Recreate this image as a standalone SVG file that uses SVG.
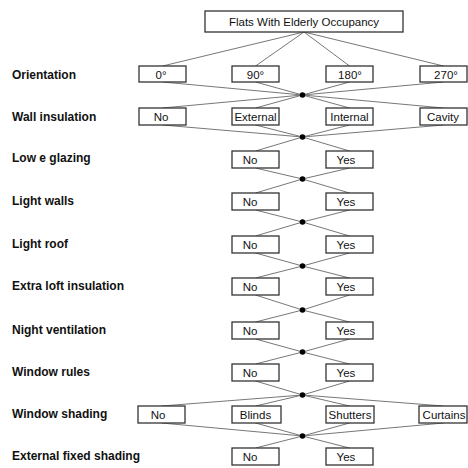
<svg xmlns="http://www.w3.org/2000/svg" width="468" height="468" viewBox="0 0 468 468">
<style>
.box{fill:#fff;stroke:#333;stroke-width:1.3}
.bt{font-family:"Liberation Sans",Arial,sans-serif;font-size:11.5px;fill:#111;text-anchor:middle}
.lbl{font-family:"Liberation Sans",Arial,sans-serif;font-size:12px;font-weight:bold;fill:#111}
.con line{stroke:#777;stroke-width:1}
.dot{fill:#000}
</style>
<rect width="468" height="468" fill="#fff"/>
<g id="connectors" class="con">
<line x1="304" y1="32" x2="162.5" y2="66"/><line x1="304" y1="32" x2="255.5" y2="66"/><line x1="304" y1="32" x2="349.5" y2="66"/><line x1="304" y1="32" x2="443.5" y2="66"/>
<line x1="162.5" y1="82" x2="302.5" y2="95"/><line x1="255.5" y1="82" x2="302.5" y2="95"/><line x1="349.5" y1="82" x2="302.5" y2="95"/><line x1="443.5" y1="82" x2="302.5" y2="95"/>
<line x1="302.5" y1="95" x2="162.5" y2="108"/><line x1="302.5" y1="95" x2="255.5" y2="108"/><line x1="302.5" y1="95" x2="349.5" y2="108"/><line x1="302.5" y1="95" x2="443.5" y2="108"/>
<line x1="162.5" y1="125" x2="302.5" y2="137"/><line x1="255.5" y1="125" x2="302.5" y2="137"/><line x1="349.5" y1="125" x2="302.5" y2="137"/><line x1="443.5" y1="125" x2="302.5" y2="137"/>
<line x1="302.5" y1="137" x2="255.5" y2="151"/><line x1="302.5" y1="137" x2="349.5" y2="151"/>
<line x1="255.5" y1="168" x2="302.5" y2="179"/><line x1="349.5" y1="168" x2="302.5" y2="179"/>
<line x1="302.5" y1="179" x2="255.5" y2="193"/><line x1="302.5" y1="179" x2="349.5" y2="193"/>
<line x1="255.5" y1="210" x2="302.5" y2="222"/><line x1="349.5" y1="210" x2="302.5" y2="222"/>
<line x1="302.5" y1="222" x2="255.5" y2="236"/><line x1="302.5" y1="222" x2="349.5" y2="236"/>
<line x1="255.5" y1="253" x2="302.5" y2="266"/><line x1="349.5" y1="253" x2="302.5" y2="266"/>
<line x1="302.5" y1="266" x2="255.5" y2="278"/><line x1="302.5" y1="266" x2="349.5" y2="278"/>
<line x1="255.5" y1="295" x2="302.5" y2="310"/><line x1="349.5" y1="295" x2="302.5" y2="310"/>
<line x1="302.5" y1="310" x2="255.5" y2="322"/><line x1="302.5" y1="310" x2="349.5" y2="322"/>
<line x1="255.5" y1="339" x2="302.5" y2="352"/><line x1="349.5" y1="339" x2="302.5" y2="352"/>
<line x1="302.5" y1="352" x2="255.5" y2="364"/><line x1="302.5" y1="352" x2="349.5" y2="364"/>
<line x1="255.5" y1="381" x2="302.5" y2="395"/><line x1="349.5" y1="381" x2="302.5" y2="395"/>
<line x1="302.5" y1="395" x2="161.5" y2="406"/><line x1="302.5" y1="395" x2="255.5" y2="406"/><line x1="302.5" y1="395" x2="349.5" y2="406"/><line x1="302.5" y1="395" x2="443.5" y2="406"/>
<line x1="161.5" y1="423" x2="302.5" y2="436"/><line x1="255.5" y1="423" x2="302.5" y2="436"/><line x1="349.5" y1="423" x2="302.5" y2="436"/><line x1="443.5" y1="423" x2="302.5" y2="436"/>
<line x1="302.5" y1="436" x2="255.5" y2="448"/><line x1="302.5" y1="436" x2="349.5" y2="448"/>
<circle class="dot" cx="302.5" cy="95" r="2.8"/><circle class="dot" cx="302.5" cy="137" r="2.8"/><circle class="dot" cx="302.5" cy="179" r="2.8"/><circle class="dot" cx="302.5" cy="222" r="2.8"/><circle class="dot" cx="302.5" cy="266" r="2.8"/><circle class="dot" cx="302.5" cy="310" r="2.8"/><circle class="dot" cx="302.5" cy="352" r="2.8"/><circle class="dot" cx="302.5" cy="395" r="2.8"/><circle class="dot" cx="302.5" cy="436" r="2.8"/>
</g>
<g id="labels">
<text class="lbl" x="12" y="78.5">Orientation</text>
<text class="lbl" x="12" y="121">Wall insulation</text>
<text class="lbl" x="12" y="162">Low e glazing</text>
<text class="lbl" x="12" y="205">Light walls</text>
<text class="lbl" x="12" y="248">Light roof</text>
<text class="lbl" x="12" y="290">Extra loft insulation</text>
<text class="lbl" x="12" y="334">Night ventilation</text>
<text class="lbl" x="12" y="376">Window rules</text>
<text class="lbl" x="12" y="418">Window shading</text>
<text class="lbl" x="12" y="460">External fixed shading</text>
</g>
<g id="root"><rect class="box" x="205" y="11" width="198" height="21"/><text class="bt" x="304" y="26">Flats With Elderly Occupancy</text></g>
<g id="o0"><rect class="box" x="139" y="66" width="47" height="16"/><text class="bt" x="161" y="78.5">0°</text></g>
<g id="o90"><rect class="box" x="232" y="66" width="47" height="16"/><text class="bt" x="255.5" y="78.5">90°</text></g>
<g id="o180"><rect class="box" x="326" y="66" width="47" height="16"/><text class="bt" x="350" y="78.5">180°</text></g>
<g id="o270"><rect class="box" x="420" y="66" width="47" height="16"/><text class="bt" x="446" y="78.5">270°</text></g>
<g id="w-no"><rect class="box" x="139" y="108" width="47" height="17"/><text class="bt" x="161" y="121">No</text></g>
<g id="w-ext"><rect class="box" x="232" y="108" width="47" height="17"/><text class="bt" x="255.5" y="121">External</text></g>
<g id="w-int"><rect class="box" x="326" y="108" width="47" height="17"/><text class="bt" x="349.5" y="121">Internal</text></g>
<g id="w-cav"><rect class="box" x="420" y="108" width="47" height="17"/><text class="bt" x="443" y="121">Cavity</text></g>
<g id="g-no"><rect class="box" x="232" y="151" width="47" height="17"/><text class="bt" x="250" y="164">No</text></g>
<g id="g-yes"><rect class="box" x="326" y="151" width="47" height="17"/><text class="bt" x="346" y="164">Yes</text></g>
<g id="lw-no"><rect class="box" x="232" y="193" width="47" height="17"/><text class="bt" x="250" y="206">No</text></g>
<g id="lw-yes"><rect class="box" x="326" y="193" width="47" height="17"/><text class="bt" x="346" y="206">Yes</text></g>
<g id="lr-no"><rect class="box" x="232" y="236" width="47" height="17"/><text class="bt" x="250" y="249">No</text></g>
<g id="lr-yes"><rect class="box" x="326" y="236" width="47" height="17"/><text class="bt" x="346" y="249">Yes</text></g>
<g id="el-no"><rect class="box" x="232" y="278" width="47" height="17"/><text class="bt" x="250" y="291">No</text></g>
<g id="el-yes"><rect class="box" x="326" y="278" width="47" height="17"/><text class="bt" x="346" y="291">Yes</text></g>
<g id="nv-no"><rect class="box" x="232" y="322" width="47" height="17"/><text class="bt" x="250" y="335">No</text></g>
<g id="nv-yes"><rect class="box" x="326" y="322" width="47" height="17"/><text class="bt" x="346" y="335">Yes</text></g>
<g id="wr-no"><rect class="box" x="232" y="364" width="47" height="17"/><text class="bt" x="250" y="377">No</text></g>
<g id="wr-yes"><rect class="box" x="326" y="364" width="47" height="17"/><text class="bt" x="346" y="377">Yes</text></g>
<g id="ws-no"><rect class="box" x="138" y="406" width="47" height="17"/><text class="bt" x="158" y="419">No</text></g>
<g id="ws-bl"><rect class="box" x="232" y="406" width="49" height="17"/><text class="bt" x="255.5" y="419">Blinds</text></g>
<g id="ws-sh"><rect class="box" x="326" y="406" width="48" height="17"/><text class="bt" x="350" y="419">Shutters</text></g>
<g id="ws-cu"><rect class="box" x="419" y="406" width="48" height="17"/><text class="bt" x="444" y="419">Curtains</text></g>
<g id="ef-no"><rect class="box" x="232" y="448" width="47" height="17"/><text class="bt" x="250" y="461">No</text></g>
<g id="ef-yes"><rect class="box" x="326" y="448" width="47" height="17"/><text class="bt" x="346" y="461">Yes</text></g>
</svg>
